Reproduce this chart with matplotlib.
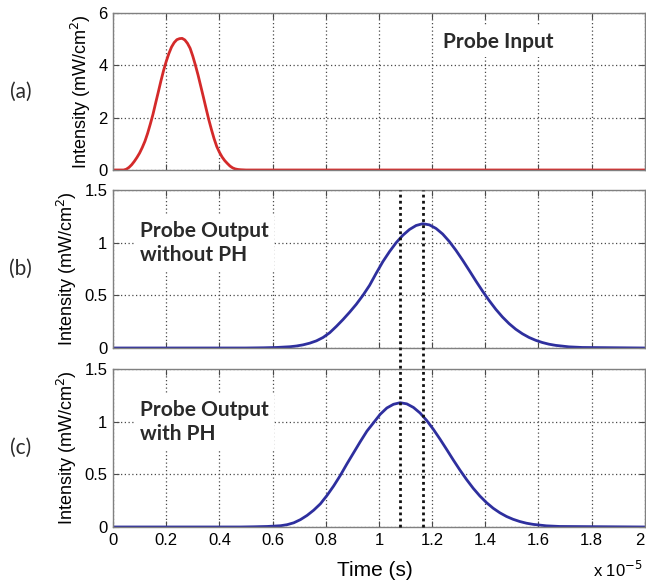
import matplotlib as mpl
mpl.use('Agg')

import matplotlib.pyplot as plt
from matplotlib.lines import Line2D
from matplotlib.transforms import blended_transform_factory

# time axis in units of 1e-5 s
t_in = [0, 0.04, 0.05, 0.06, 0.07, 0.08, 0.09, 0.10, 0.11, 0.12, 0.13, 0.14,
        0.15, 0.16, 0.17, 0.18, 0.19, 0.20, 0.21, 0.22, 0.23, 0.24, 0.25,
        0.26, 0.27, 0.28, 0.29, 0.30, 0.31, 0.32, 0.33, 0.34, 0.35, 0.36,
        0.37, 0.38, 0.39, 0.40, 0.41, 0.42, 0.43, 0.44, 0.45, 0.46, 0.47,
        0.48, 0.50, 2.0]
i_in = [0, 0, 0.03, 0.1, 0.2, 0.33, 0.48, 0.65, 0.86, 1.1, 1.4, 1.75,
        2.12, 2.55, 2.97, 3.4, 3.8, 4.15, 4.45, 4.7, 4.87, 4.98, 5.02,
        5.03, 4.97, 4.84, 4.65, 4.35, 4.0, 3.62, 3.2, 2.78, 2.35, 1.93,
        1.55, 1.2, 0.9, 0.68, 0.5, 0.36, 0.25, 0.15, 0.08, 0.04, 0.02,
        0.01, 0, 0]

t_out = [0, 0.5, 0.565, 0.615, 0.665, 0.69, 0.715, 0.74, 0.765, 0.79, 0.815,
         0.84, 0.865, 0.89, 0.915, 0.94, 0.965, 0.99, 1.015, 1.04, 1.065,
         1.09, 1.115, 1.14, 1.165, 1.19, 1.215, 1.24, 1.265, 1.29, 1.315,
         1.34, 1.365, 1.39, 1.415, 1.44, 1.465, 1.49, 1.515, 1.54, 1.565,
         1.59, 1.615, 1.64, 1.665, 1.715, 1.765, 2.0]
i_out = [0, 0, 0.002, 0.005, 0.012, 0.019, 0.03, 0.046, 0.068, 0.1, 0.145,
         0.205, 0.27, 0.34, 0.415, 0.50, 0.595, 0.71, 0.82, 0.915, 1.0,
         1.07, 1.125, 1.163, 1.18, 1.169, 1.135, 1.082, 1.011, 0.927, 0.834,
         0.736, 0.636, 0.540, 0.450, 0.367, 0.294, 0.231, 0.178, 0.135, 0.100,
         0.073, 0.052, 0.036, 0.025, 0.011, 0.005, 0]

t_ph = [0, 0.48, 0.53, 0.58, 0.63, 0.655, 0.68, 0.705, 0.73, 0.755, 0.78,
        0.805, 0.83, 0.855, 0.88, 0.905, 0.93, 0.955, 0.98, 1.005, 1.03,
        1.055, 1.08, 1.105, 1.13, 1.155, 1.18, 1.205, 1.23, 1.255, 1.28,
        1.305, 1.33, 1.355, 1.38, 1.405, 1.43, 1.455, 1.48, 1.505, 1.53,
        1.555, 1.58, 1.63, 1.68, 2.0]
i_ph = [0, 0, 0.002, 0.005, 0.012, 0.022, 0.04, 0.07, 0.11, 0.16, 0.22,
        0.30, 0.39, 0.49, 0.60, 0.705, 0.81, 0.91, 0.99, 1.07, 1.13,
        1.165, 1.18, 1.169, 1.135, 1.082, 1.011, 0.927, 0.834, 0.736, 0.636,
        0.540, 0.450, 0.367, 0.294, 0.231, 0.178, 0.135, 0.100, 0.073, 0.052,
        0.036, 0.025, 0.011, 0.005, 0]

peak_marks = [1.08, 1.165]

x_ticks = [0, 0.2, 0.4, 0.6, 0.8, 1, 1.2, 1.4, 1.6, 1.8, 2]
x_labels = ['0', '0.2', '0.4', '0.6', '0.8', '1', '1.2', '1.4', '1.6', '1.8', '2']

red = '#d42a2a'
blue = '#2e2f9e'
grid_color = '#4a4a4a'
spine_color = '#808080'

plt.rcParams['font.family'] = ['Liberation Sans', 'DejaVu Sans']

fig = plt.figure(figsize=(6.46, 5.8), dpi=100, facecolor='white')
L, W = 0.175, 0.823
ax_a = fig.add_axes([L, 0.7069, W, 0.2707])
ax_b = fig.add_axes([L, 0.4000, W, 0.2724])
ax_c = fig.add_axes([L, 0.0914, W, 0.2724])


def style_ax(ax, yticks, ylabels):
    ax.set_xlim(0, 2)
    ax.set_xticks(x_ticks)
    ax.set_yticks(yticks)
    ax.set_yticklabels(ylabels)
    ax.set_ylim(yticks[0], yticks[-1])
    ax.grid(True, linestyle=(0, (1, 2)), color=grid_color, linewidth=0.9)
    ax.tick_params(direction='in', length=4, top=True, right=True,
                   labelsize=12, color=grid_color, pad=4)
    for s in ax.spines.values():
        s.set_color(spine_color)
        s.set_linewidth(1.0)
    ax.set_ylabel('Intensity (mW/cm$^2$)', fontsize=13, labelpad=4)


style_ax(ax_a, [0, 2, 4, 6], ['0', '2', '4', '6'])
style_ax(ax_b, [0, 0.5, 1, 1.5], ['0', '0.5', '1', '1.5'])
style_ax(ax_c, [0, 0.5, 1, 1.5], ['0', '0.5', '1', '1.5'])
ax_a.set_xticklabels([])
ax_b.set_xticklabels([])
ax_c.set_xticklabels(x_labels)
ax_c.get_xticklabels()[-1].set_ha('right')

ax_a.plot(t_in, i_in, color=red, linewidth=2)
ax_b.plot(t_out, i_out, color=blue, linewidth=2)
ax_c.plot(t_ph, i_ph, color=blue, linewidth=2)

# text labels, white box hides the grid behind them
box = dict(facecolor='white', edgecolor='none', pad=4)
ax_a.text(1.45, 4.9, 'Probe Input', family=['Lato', 'DejaVu Sans'],
          fontweight='bold', fontsize=15, color='#2a2a2a',
          ha='center', va='center', bbox=box)
ax_b.text(0.1, 1.0, 'Probe Output\nwithout PH', family=['Lato', 'DejaVu Sans'],
          fontweight='bold', fontsize=15, color='#2a2a2a', linespacing=1.25,
          ha='left', va='center', bbox=box)
ax_c.text(0.1, 1.0, 'Probe Output\nwith PH', family=['Lato', 'DejaVu Sans'],
          fontweight='bold', fontsize=15, color='#2a2a2a', linespacing=1.25,
          ha='left', va='center', bbox=box)

for lbl, ax in zip(['(a)', '(b)', '(c)'], [ax_a, ax_b, ax_c]):
    pos = ax.get_position()
    fig.text(0.032, (pos.y0 + pos.y1) / 2, lbl, family=['Lato', 'DejaVu Sans'],
             fontsize=15, ha='center', va='center', color='#2a2a2a')

# dotted peak markers spanning panels (b) and (c)
tr = blended_transform_factory(ax_c.transData, fig.transFigure)
for xm in peak_marks:
    fig.add_artist(Line2D([xm, xm], [0.0914, 0.6724], transform=tr,
                          color='#111111', linestyle=(0, (1, 1.2)), linewidth=2))

fig.text(0.58, 0.017, 'Time (s)', fontsize=15, ha='center', va='center')
fig.text(0.995, 0.017, r'x 10$^{-5}$', fontsize=12, ha='right', va='center')

fig.savefig('out.png', dpi=100, facecolor=fig.get_facecolor())
